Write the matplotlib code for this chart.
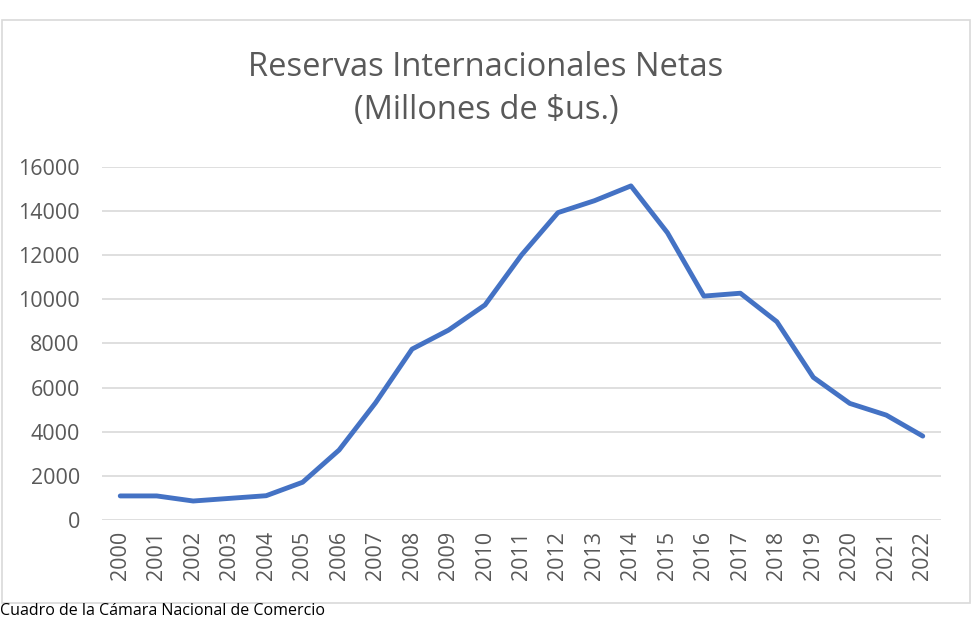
import matplotlib
matplotlib.use('Agg')
import matplotlib.pyplot as plt
from matplotlib.patches import Rectangle

years = [str(y) for y in range(2000, 2023)]
reservas = [1090, 1090, 860, 980, 1100, 1710, 3170, 5310, 7740, 8600, 9740,
            12000, 13920, 14460, 15130, 13010, 10140, 10270, 8980, 6460,
            5280, 4750, 3800]
yticks = [0, 2000, 4000, 6000, 8000, 10000, 12000, 14000, 16000]

plt.rcParams['font.family'] = ['Open Sans', 'DejaVu Sans']

fig = plt.figure(figsize=(9.72, 6.24), dpi=100)
# marco del area del grafico
fig.patches.append(Rectangle((2 / 972, 1 - 603 / 624), 968 / 972, 583 / 624,
                             transform=fig.transFigure, fill=False,
                             edgecolor='#d9d9d9', linewidth=1.2))

ax = fig.add_axes([102 / 972, 1 - 520 / 624, 839 / 972, 353.3 / 624])
x = list(range(len(years)))
ax.plot(x, reservas, color='#4472c4', linewidth=3.5, solid_joinstyle='round',
        solid_capstyle='round', zorder=3)

ax.set_xlim(-0.5, len(years) - 0.5)
ax.set_ylim(0, 16000)
ax.set_yticks(yticks)
ax.set_yticklabels([str(v) for v in yticks])
ax.set_xticks(x)
ax.set_xticklabels(years, rotation=90)
ax.grid(axis='y', color='#d9d9d9', linewidth=1.2)
ax.set_axisbelow(True)
for s in ax.spines.values():
    s.set_visible(False)
ax.tick_params(axis='both', length=0, labelsize=15.5, labelcolor='#595959')
ax.tick_params(axis='y', pad=16)
ax.tick_params(axis='x', pad=8)

fig.text(0.5, 1 - 67 / 624, 'Reservas Internacionales Netas', ha='center',
         va='center', fontsize=23.5, color='#595959')
fig.text(0.5, 1 - 111 / 624, '(Millones de $us.)', ha='center',
         va='center', fontsize=23.5, color='#595959')

fig.text(0.0, 1 - 611 / 624, 'Cuadro de la Cámara Nacional de Comercio',
         ha='left', va='center', fontsize=11.5, color='black')

fig.savefig('out.png', dpi=100, facecolor='white')
